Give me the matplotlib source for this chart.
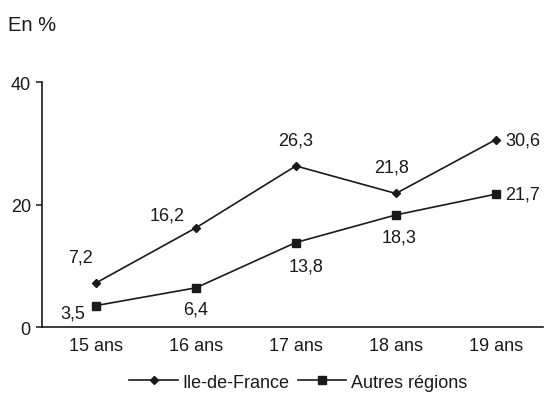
import matplotlib
matplotlib.use("Agg")
import matplotlib.pyplot as plt
import numpy as np

plt.rcParams['font.family'] = ['Liberation Sans', 'DejaVu Sans']

categories = ["15 ans", "16 ans", "17 ans", "18 ans", "19 ans"]
idf = [7.2, 16.2, 26.3, 21.8, 30.6]
autres = [3.5, 6.4, 13.8, 18.3, 21.7]
yticks = [0, 20, 40]

# label offsets (points) for each value label
idf_offsets = [(-11, 19), (-21, 9), (0, 19), (-3, 19), (7, 0)]
autres_offsets = [(-17, -5), (0, -15), (7, -17), (2, -16), (7, 0)]

fig = plt.figure(figsize=(5.45, 4.02), dpi=100)
ax = fig.add_axes([0.077, 0.184, 0.919, 0.6095])

x = np.arange(len(categories))
col = "#1a1a1a"
ax.plot(x, idf, color=col, lw=1.2, marker="D", markersize=4.3, label="Ile-de-France")
ax.plot(x, autres, color=col, lw=1.2, marker="s", markersize=6, label="Autres régions")

fs = 13
def fmt(v):
    return f"{v:.1f}".replace(".", ",")

for xi, v, (dx, dy) in zip(x, idf, idf_offsets):
    ha = "left" if dx > 5 and dy == 0 else "center"
    ax.annotate(fmt(v), (xi, v), xytext=(dx, dy), textcoords="offset points",
                ha=ha, va="center", fontsize=fs, color=col)
for xi, v, (dx, dy) in zip(x, autres, autres_offsets):
    ha = "left" if dx > 5 and dy == 0 else "center"
    ax.annotate(fmt(v), (xi, v), xytext=(dx, dy), textcoords="offset points",
                ha=ha, va="center", fontsize=fs, color=col)

ax.set_xlim(-0.54, 4.47)
ax.set_ylim(0, 40)
ax.set_xticks(x)
ax.set_xticklabels(categories, fontsize=fs, color=col)
ax.set_yticks(yticks)
ax.set_yticklabels([str(t) for t in yticks], fontsize=fs, color=col)
ax.tick_params(axis="x", length=0, pad=7)
ax.tick_params(axis="y", length=4, width=1.1, color=col, pad=4)

for s in ["top", "right"]:
    ax.spines[s].set_visible(False)
for s in ["left", "bottom"]:
    ax.spines[s].set_linewidth(1.2)
    ax.spines[s].set_color(col)

fig.text(0.015, 0.937, "En %", fontsize=fs + 1.5, color=col, va="center", ha="left")

fig.legend(loc="center", bbox_to_anchor=(0.547, 0.047), ncol=2, frameon=False,
           fontsize=fs, handlelength=2.7, handletextpad=0.25, columnspacing=0.45,
           labelcolor=col)

fig.savefig("out.png", dpi=100)
